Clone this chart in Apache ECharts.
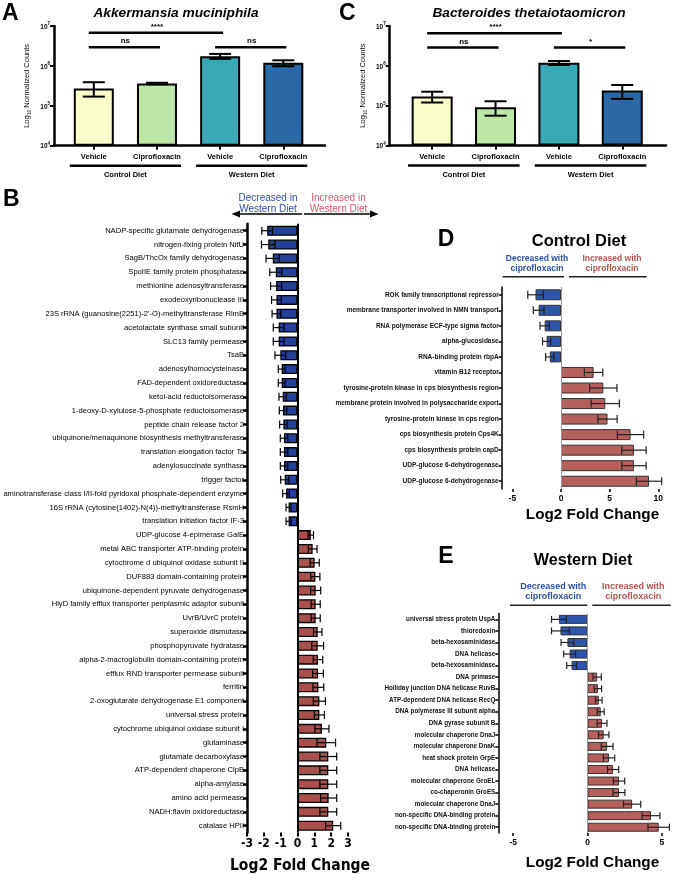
<!DOCTYPE html>
<html><head><meta charset="utf-8">
<script src="https://cdn.jsdelivr.net/npm/echarts@6/dist/echarts.min.js"></script>
<style>html,body{margin:0;padding:0;background:#fff}#c{width:678px;height:875px}</style>
</head><body><div id="c"></div>
<script>
// ---------- Panel A / C data ----------
const treatments = ['Vehicle','Ciprofloxacin','Vehicle','Ciprofloxacin'];
const diets = ['Control Diet','Western Diet'];
const dietFirst = [0, 2];
const dietLast = [1, 3];
const akkMean = [2.7e5, 3.6e5, 1.74e6, 1.2e6];
const akkLow  = [1.7e5, 3.45e5, 1.5e6, 0.98e6];
const akkHigh = [3.9e5, 3.78e5, 2.0e6, 1.38e6];
const btMean = [1.7e5, 0.91e5, 1.2e6, 2.4e5];
const btLow  = [1.2e5, 0.56e5, 1.05e6, 1.48e5];
const btHigh = [2.24e5, 1.29e5, 1.32e6, 3.3e5];
const sigA = [[0,2,'****',6.8e6],[0,1,'ns',2.95e6],[2,3,'ns',2.95e6]];
const sigC = [[0,2,'****',6.6e6],[0,1,'ns',2.9e6],[2,3,'*',2.9e6]];
const barColorsAC = ['#fafcc9','#bde5a6','#3aa8b5','#2a68a6'];

// ---------- Panel B data ----------
const bLabels = ['NADP-specific glutamate dehydrogenase','nitrogen-fixing protein NifU','SagB/ThcOx family dehydrogenase','SpoIIE family protein phosphatase','methionine adenosyltransferase','exodeoxyribonuclease III','23S rRNA (guanosine(2251)-2\'-O)-methyltransferase RlmB','acetolactate synthase small subunit','SLC13 family permease','TsaB','adenosylhomocysteinase','FAD-dependent oxidoreductase','ketol-acid reductoisomerase','1-deoxy-D-xylulose-5-phosphate reductoisomerase','peptide chain release factor 2','ubiquinone/menaquinone biosynthesis methyltransferase','translation elongation factor Ts','adenylosuccinate synthase','trigger factor','aminotransferase class I/II-fold pyridoxal phosphate-dependent enzyme','16S rRNA (cytosine(1402)-N(4))-methyltransferase RsmH','translation initiation factor IF-3','UDP-glucose 4-epimerase GalE','metal ABC transporter ATP-binding protein','cytochrome d ubiquinol oxidase subunit II','DUF883 domain-containing protein','ubiquinone-dependent pyruvate dehydrogenase','HlyD family efflux transporter periplasmic adaptor subunit','UvrB/UvrC protein','superoxide dismutase','phosphopyruvate hydratase','alpha-2-macroglobulin domain-containing protein','efflux RND transporter permease subunit','ferritin','2-oxoglutarate dehydrogenase E1 component','universal stress protein','cytochrome ubiquinol oxidase subunit I','glutaminase','glutamate decarboxylase','ATP-dependent chaperone ClpB','alpha-amylase','amino acid permease','NADH:flavin oxidoreductase','catalase HPII'];
const bFC = [-1.80,-1.74,-1.47,-1.29,-1.27,-1.25,-1.25,-1.12,-1.12,-1.02,-0.94,-0.94,-0.88,-0.86,-0.84,-0.80,-0.80,-0.80,-0.76,-0.68,-0.53,-0.53,
             0.79,0.90,1.02,1.06,1.08,1.08,1.08,1.20,1.20,1.22,1.22,1.24,1.30,1.30,1.45,1.71,1.83,1.83,1.83,1.85,1.83,2.12];
const bSE = [0.32,0.40,0.40,0.36,0.33,0.29,0.26,0.32,0.32,0.32,0.20,0.20,0.22,0.22,0.22,0.22,0.22,0.22,0.24,0.20,0.15,0.15,
             0.16,0.26,0.27,0.27,0.30,0.27,0.27,0.25,0.35,0.28,0.32,0.32,0.36,0.30,0.42,0.55,0.50,0.50,0.50,0.48,0.50,0.45];

// ---------- Panel D data ----------
const dLabels = ['ROK family transcriptional repressor','membrane transporter involved in NMN transport','RNA polymerase ECF-type sigma factor','alpha-glucosidase','RNA-binding protein rbpA','vitamin B12 receptor','tyrosine-protein kinase in cps biosynthesis region','membrane protein involved in polysaccharide export','tyrosine-protein kinase in cps region','cps biosynthesis protein Cps4K','cps biosynthesis protein capD','UDP-glucose 6-dehydrogenase','UDP-glucose 6-dehydrogenase'];
const dFC = [-2.62,-2.30,-1.68,-1.48,-1.15,3.35,4.35,4.55,4.78,7.15,7.50,7.50,9.05];
const dSE = [0.80,0.55,0.48,0.42,0.43,0.95,1.40,1.45,0.99,1.35,1.25,1.25,1.30];

// ---------- Panel E data ----------
const eLabels = ['universal stress protein UspA','thioredoxin','beta-hexosaminidase','DNA helicase','beta-hexosaminidase','DNA primase','Holliday junction DNA helicase RuvB','ATP-dependent DNA helicase RecQ','DNA polymerase III subunit alpha','DNA gyrase subunit B','molecular chaperone DnaJ','molecular chaperone DnaK','heat shock protein GrpE','DNA helicase','molecular chaperone GroEL','co-chaperonin GroES','molecular chaperone DnaJ','non-specific DNA-binding protein','non-specific DNA-binding protein'];
const eFC = [-1.92,-1.82,-1.35,-1.20,-1.07,0.65,0.70,0.76,0.89,0.98,1.09,1.32,1.45,1.72,2.12,2.12,3.00,4.27,4.79];
const eSE = [0.50,0.60,0.43,0.40,0.33,0.28,0.25,0.22,0.23,0.33,0.35,0.40,0.38,0.38,0.38,0.40,0.58,0.60,0.72];

const F = 'Liberation Sans, Arial, sans-serif';
const FN = "'Liberation Sans Narrow', 'DejaVu Sans Condensed', 'Liberation Sans', sans-serif";

function vErr(params, api){
  const x = api.value(0), lo = api.value(1), hi = api.value(2);
  const a = api.coord([x, lo]), b = api.coord([x, hi]);
  const w = 11, st = {stroke:'#000', lineWidth:2};
  return {type:'group', children:[
    {type:'line', shape:{x1:a[0],y1:a[1],x2:b[0],y2:b[1]}, style:st},
    {type:'line', shape:{x1:a[0]-w,y1:a[1],x2:a[0]+w,y2:a[1]}, style:st},
    {type:'line', shape:{x1:b[0]-w,y1:b[1],x2:b[0]+w,y2:b[1]}, style:st}
  ]};
}
function sigRender(list){
  return function(params, api){
    const s = list[params.dataIndex];
    const a = api.coord([s[0], s[3]]), b = api.coord([s[1], s[3]]);
    return {type:'group', children:[
      {type:'line', shape:{x1:a[0]-5,y1:a[1],x2:b[0]+3,y2:b[1]}, style:{stroke:'#000', lineWidth:2.5}},
      {type:'text', x:(a[0]+b[0])/2, y:a[1]-2, style:{text:s[2], textAlign:'center', textVerticalAlign:'bottom', font:'bold 8px '+F, fill:'#000'}}
    ]};
  };
}
function grpRender(params, api){
  const i = params.dataIndex;
  const a = api.coord([dietFirst[i]-0.38, 1e4]), b = api.coord([dietLast[i]+0.38, 1e4]);
  const y = a[1] + 20;
  return {type:'group', children:[
    {type:'line', shape:{x1:a[0],y1:y,x2:b[0],y2:y}, style:{stroke:'#000', lineWidth:2.5}},
    {type:'text', x:(a[0]+b[0])/2, y:y+9, style:{text:diets[i], textAlign:'center', textVerticalAlign:'middle', font:'bold 7.5px '+F, fill:'#000'}}
  ]};
}
function hErr(cap, lw, col){
  return function(params, api){
    const v = api.value(0), e = api.value(1), c = api.value(2);
    const a = api.coord([v-e, c]), b = api.coord([v+e, c]);
    const st = {stroke:col, lineWidth:lw};
    return {type:'group', children:[
      {type:'line', shape:{x1:a[0],y1:a[1],x2:b[0],y2:b[1]}, style:st},
      {type:'line', shape:{x1:a[0],y1:a[1]-cap/2,x2:a[0],y2:a[1]+cap/2}, style:st},
      {type:'line', shape:{x1:b[0],y1:b[1]-cap/2,x2:b[0],y2:b[1]+cap/2}, style:st}
    ]};
  };
}

function logAxis(gi){
  return {type:'log', gridIndex:gi, logBase:10, min:1e4, max:1e7, startValue:1e4,
    axisLine:{show:true, onZero:false, lineStyle:{color:'#000', width:2.5}},
    axisTick:{show:true, length:4, lineStyle:{color:'#000', width:2}},
    minorTick:{show:false}, splitLine:{show:false},
    axisLabel:{margin:4, formatter:v=>'{b|10}{s|'+Math.round(Math.log10(v))+'}',
      rich:{b:{fontSize:6.5, fontWeight:'bold', fontFamily:F, color:'#000', verticalAlign:'bottom', lineHeight:9},
            s:{fontSize:4.5, fontWeight:'bold', fontFamily:F, color:'#000', verticalAlign:'top', lineHeight:9}}},
    name:'Log{s|10} Normalized Counts', nameLocation:'middle', nameRotate:90, nameGap:22,
    nameTextStyle:{fontSize:7.5, fontFamily:F, color:'#111', rich:{s:{fontSize:5, fontFamily:F, verticalAlign:'bottom', lineHeight:10}}}
  };
}
function catXAxis(gi, mn, mx){
  return {type:'value', gridIndex:gi, min:mn, max:mx,
    axisLine:{show:true, onZero:false, lineStyle:{color:'#000', width:2.5}},
    axisTick:{show:true, customValues:[0,1,2,3], length:4, lineStyle:{color:'#000', width:2}},
    splitLine:{show:false},
    axisLabel:{customValues:[0,1,2,3], formatter:v=>treatments[v], margin:7, fontSize:7.5, fontWeight:'bold', fontFamily:F, color:'#000'}
  };
}
function hBarY(gi, labels, fs, font, tickLen, lw, margin, weight, col){
  return {type:'category', gridIndex:gi, inverse:true, data:labels,
    axisLine:{show:true, onZero:false, lineStyle:{color:'#000', width:lw}},
    axisTick:{show:true, alignWithLabel:true, interval:0, length:tickLen, lineStyle:{color:'#000', width:lw}},
    axisLabel:{interval:0, fontSize:fs, fontFamily:font, fontWeight:weight, color:col, margin:margin}
  };
}

const bData = bFC.map(v=>({value:v, itemStyle:{color: v<0 ? '#25409a' : '#a9504e'}}));
const dData = dFC.map(v=>({value:v, itemStyle:{color: v<0 ? '#2f55ab' : '#b5605d'}}));
const eData = eFC.map(v=>({value:v, itemStyle:{color: v<0 ? '#2f55ab' : '#b5605d'}}));

function hdr(cx, y, t1, t2, col, fs, weight){
  return {type:'text', x:cx, y:y, style:{text:t1+'\n'+t2, align:'center', verticalAlign:'top', font:weight+' '+fs+'px '+F, fill:col, lineHeight:fs+1.5}};
}
function ln(x1,y1,x2,y2,w,c){ return {type:'line', shape:{x1,y1,x2,y2}, style:{stroke:c||'#222', lineWidth:w}}; }
function txt(x,y,t,font,align){ return {type:'text', x, y, style:{text:t, font:font, fill:'#000', align:align||'center', verticalAlign:'middle'}}; }

const G = {containLabel:false, outerBoundsMode:'none'};
const option = {
  animation:false,
  backgroundColor:'#fff',
  grid:[
    Object.assign({left:54, top:26, width:271, height:119.7}, G),
    Object.assign({left:389.7, top:26, width:276.3, height:119.5}, G),
    Object.assign({left:247, top:223.8, width:101, height:608.8}, G),
    Object.assign({left:501.7, top:287, width:166.3, height:202}, G),
    Object.assign({left:498.3, top:613.6, width:178.4, height:219.4}, G)
  ],
  xAxis:[
    catXAxis(0, -0.63, 3.66),
    catXAxis(1, -0.67, 3.69),
    {type:'value', gridIndex:2, min:-3, max:3, interval:1,
      axisLine:{onZero:false, lineStyle:{color:'#000', width:2.5}},
      axisTick:{show:true, length:4, lineStyle:{color:'#000', width:2}}, splitLine:{show:false},
      axisLabel:{fontSize:12, fontWeight:'bold', fontFamily:FN, color:'#000', margin:5}},
    {type:'value', gridIndex:3, min:-6.1, max:11,
      axisLine:{onZero:false, lineStyle:{color:'#000', width:1.5}},
      axisTick:{show:true, customValues:[-5,0,5,10], length:3, lineStyle:{color:'#000', width:1.5}}, splitLine:{show:false},
      axisLabel:{customValues:[-5,0,5,10], fontSize:8.5, fontWeight:'bold', fontFamily:F, color:'#000', margin:5}},
    {type:'value', gridIndex:4, min:-6, max:6,
      axisLine:{onZero:false, lineStyle:{color:'#000', width:1.5}},
      axisTick:{show:true, customValues:[-5,0,5], length:3, lineStyle:{color:'#000', width:1.5}}, splitLine:{show:false},
      axisLabel:{customValues:[-5,0,5], fontSize:8.5, fontWeight:'bold', fontFamily:F, color:'#000', margin:5}}
  ],
  yAxis:[
    logAxis(0),
    logAxis(1),
    hBarY(2, bLabels, 7.6, F, 4, 2.5, 3, 'normal', '#000'),
    hBarY(3, dLabels, 6.5, F, 3, 1.5, 3, 'bold', '#111'),
    hBarY(4, eLabels, 6.3, F, 3, 1.5, 3, 'bold', '#111')
  ],
  series:[
    {type:'bar', xAxisIndex:0, yAxisIndex:0, barWidth:40, clip:true,
      data:akkMean.map((v,i)=>({value:[i,v], itemStyle:{color:barColorsAC[i]}})),
      itemStyle:{borderColor:'#000', borderWidth:2}},
    {type:'custom', xAxisIndex:0, yAxisIndex:0, renderItem:vErr, z:5,
      data:akkMean.map((v,i)=>[i, akkLow[i], akkHigh[i]]), encode:{x:0, y:[1,2]}},
    {type:'custom', xAxisIndex:0, yAxisIndex:0, renderItem:sigRender(sigA), z:5,
      data:sigA.map(s=>[s[0], s[3]]), encode:{x:0, y:1}},
    {type:'custom', xAxisIndex:0, yAxisIndex:0, renderItem:grpRender, z:5,
      data:diets.map((d,i)=>[dietFirst[i], 1e4]), encode:{x:0, y:1}},

    {type:'bar', xAxisIndex:1, yAxisIndex:1, barWidth:41, clip:true,
      data:btMean.map((v,i)=>({value:[i,v], itemStyle:{color:barColorsAC[i]}})),
      itemStyle:{borderColor:'#000', borderWidth:2}},
    {type:'custom', xAxisIndex:1, yAxisIndex:1, renderItem:vErr, z:5,
      data:btMean.map((v,i)=>[i, btLow[i], btHigh[i]]), encode:{x:0, y:[1,2]}},
    {type:'custom', xAxisIndex:1, yAxisIndex:1, renderItem:sigRender(sigC), z:5,
      data:sigC.map(s=>[s[0], s[3]]), encode:{x:0, y:1}},
    {type:'custom', xAxisIndex:1, yAxisIndex:1, renderItem:grpRender, z:5,
      data:diets.map((d,i)=>[dietFirst[i], 1e4]), encode:{x:0, y:1}},

    {type:'bar', xAxisIndex:2, yAxisIndex:2, barWidth:10, data:bData,
      itemStyle:{borderColor:'#000', borderWidth:1.3},
      markLine:{silent:true, symbol:'none', label:{show:false}, lineStyle:{color:'#000', width:2, type:'solid'}, data:[{xAxis:0}]}},
    {type:'custom', xAxisIndex:2, yAxisIndex:2, renderItem:hErr(8, 1.2, '#000'), z:5,
      data:bFC.map((v,i)=>[v, bSE[i], i]), encode:{x:0, y:2}},

    {type:'bar', xAxisIndex:3, yAxisIndex:3, barWidth:11, data:dData,
      itemStyle:{borderColor:'#333', borderWidth:1},
      markLine:{silent:true, symbol:'none', label:{show:false}, lineStyle:{color:'#999', width:1, type:'solid'}, data:[{xAxis:0}]}},
    {type:'custom', xAxisIndex:3, yAxisIndex:3, renderItem:hErr(8, 1.2, '#222'), z:5,
      data:dFC.map((v,i)=>[v, dSE[i], i]), encode:{x:0, y:2}},

    {type:'bar', xAxisIndex:4, yAxisIndex:4, barWidth:9, data:eData,
      itemStyle:{borderColor:'#333', borderWidth:1},
      markLine:{silent:true, symbol:'none', label:{show:false}, lineStyle:{color:'#999', width:1, type:'solid'}, data:[{xAxis:0}]}},
    {type:'custom', xAxisIndex:4, yAxisIndex:4, renderItem:hErr(7, 1.2, '#222'), z:5,
      data:eFC.map((v,i)=>[v, eSE[i], i]), encode:{x:0, y:2}}
  ],
  graphic:[
    txt(2, 14, 'A', 'bold 23px '+F, 'left'),
    txt(339, 14, 'C', 'bold 23px '+F, 'left'),
    txt(3, 200, 'B', 'bold 23px '+F, 'left'),
    txt(446, 240, 'D', 'bold 23px '+F, 'center'),
    txt(446, 557, 'E', 'bold 23px '+F, 'center'),
    txt(176, 13, 'Akkermansia muciniphila', 'italic bold 13.7px '+F),
    txt(529, 13, 'Bacteroides thetaiotaomicron', 'italic bold 13.7px '+F),
    txt(579, 241, 'Control Diet', 'bold 16.5px '+F),
    txt(583, 561, 'Western Diet', 'bold 16.2px '+F),
    // B headers
    hdr(268, 192, 'Decreased in', 'Western Diet', '#2d4ea3', 10, 'normal'),
    hdr(338.5, 192, 'Increased in', 'Western Diet', '#e0566c', 10, 'normal'),
    ln(238, 214, 302, 214, 1.5, '#000'),
    {type:'polygon', shape:{points:[[231.5,214],[240,210.5],[240,217.5]]}, style:{fill:'#000'}},
    ln(304, 214, 371, 214, 1.5, '#000'),
    {type:'polygon', shape:{points:[[378.5,214],[370,210.5],[370,217.5]]}, style:{fill:'#000'}},
    // D headers
    hdr(537, 254, 'Decreased with', 'ciprofloxacin', '#2b4fa5', 8.5, 'bold'),
    hdr(612, 254, 'Increased with', 'ciprofloxacin', '#b5534f', 8.5, 'bold'),
    ln(502.7, 276.7, 564, 276.7, 1.5),
    ln(569, 276.7, 646.7, 276.7, 1.5),
    // E headers
    hdr(553.3, 581, 'Decreased with', 'ciprofloxacin', '#2b4fa5', 9, 'bold'),
    hdr(633.3, 581, 'Increased with', 'ciprofloxacin', '#b5534f', 9, 'bold'),
    ln(510, 605.3, 587.3, 605.3, 1.5),
    ln(592.3, 605.3, 670.7, 605.3, 1.5),
    // axis titles
    txt(300, 866, 'Log2 Fold Change', 'bold 15.5px '+FN),
    txt(592.5, 515, 'Log2 Fold Change', 'bold 15.3px '+F),
    txt(592.5, 863, 'Log2 Fold Change', 'bold 15.3px '+F)
  ]
};
const chart = echarts.init(document.getElementById('c'), null, {renderer:'canvas'});
chart.setOption(option);
</script>
</body></html>
